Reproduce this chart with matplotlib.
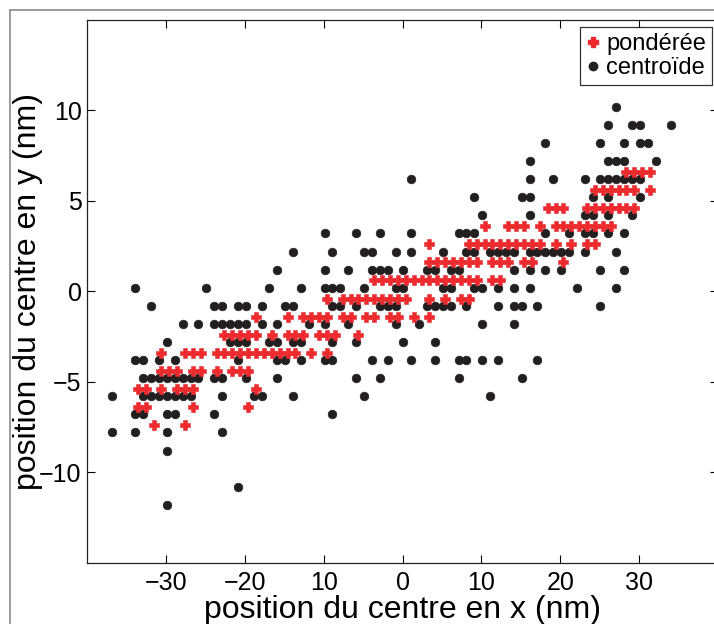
import matplotlib
matplotlib.use('Agg')
import matplotlib.pyplot as plt
from matplotlib.lines import Line2D

plt.rcParams['font.family'] = ['Liberation Sans', 'DejaVu Sans']

# ---- data: centroide (black dots), grouped by y level ----
cen_levels = [10.2, 9.2, 8.2, 7.2, 6.2, 5.2, 4.2, 3.2, 2.2, 1.2, 0.2, -0.8, -1.8,
              -2.8, -3.8, -4.8, -5.8, -6.8, -7.8, -8.8, -10.8, -11.8]
cen_x = [
    [27.1],
    [26.1, 29.1, 30.1, 34.1],
    [18.1, 25.1, 28.1, 30.1, 31.1],
    [16.1, 26.1, 27.1, 28.1, 32.1],
    [1.1, 16.1, 19.1, 23.1, 25.1, 26.1, 27.1, 28.1, 29.1, 30.1],
    [9.1, 15.1, 16.1, 24.1, 26.1, 30.1],
    [10.1, 16.1, 23.1, 24.1, 26.1, 29.1],
    [-9.9, -5.9, -2.9, 1.1, 7.1, 8.1, 9.1, 18.1, 21.1, 23.1, 24.1, 26.1, 28.1],
    [-13.9, -8.9, -4.9, -3.9, -0.9, 1.1, 5.1, 8.1, 9.1, 11.1, 12.1, 13.1, 14.1,
     16.1, 17.1, 18.1, 19.1, 20.1, 21.1, 23.1, 27.1],
    [-15.9, -9.9, -6.9, -3.9, -2.9, -1.9, 0.1, 3.1, 4.1, 6.1, 7.1, 14.1, 16.1,
     18.1, 20.1, 25.1, 28.1],
    [-33.9, -24.9, -16.9, -12.9, -9.9, -8.9, -7.9, -4.9, -0.9, 0.1, 5.1, 6.1,
     9.1, 10.1, 12.1, 14.1, 16.1, 22.1, 27.1],
    [-31.9, -23.9, -22.9, -20.9, -19.9, -17.9, -14.9, -13.9, -8.9, -7.9, -5.9,
     -2.9, -1.9, -0.9, 3.1, 4.1, 5.1, 6.1, 8.1, 12.1, 14.1, 15.1, 17.1, 25.1],
    [-27.9, -25.9, -23.9, -22.9, -21.9, -20.9, -19.9, -17.9, -15.9, -11.9, -9.9,
     -6.9, -0.9, 2.1, 10.1, 14.1],
    [-29.9, -21.9, -20.9, -19.9, -16.9, -15.9, -13.9, -12.9, -8.9, -5.9, 0.1, 4.1],
    [-33.9, -32.9, -30.9, -28.9, -20.9, -15.9, -14.9, -12.9, -9.9, -8.9, -3.9,
     -1.9, 1.1, 4.1, 7.1, 8.1, 10.1, 12.1, 17.1],
    [-32.9, -31.9, -30.9, -29.9, -28.9, -27.9, -26.9, -25.9, -23.9, -22.9, -19.9,
     -15.9, -5.9, -2.9, 7.1, 15.1],
    [-36.9, -32.9, -31.9, -30.9, -29.9, -28.9, -27.9, -26.9, -22.9, -18.9, -17.9,
     -13.9, -4.9, 11.1],
    [-33.9, -32.9, -29.9, -28.9, -23.9, -8.9],
    [-36.9, -33.9, -29.9, -22.9],
    [-29.9],
    [-20.9],
    [-29.9],
]

# ---- data: ponderee (red crosses), grouped by y level ----
pond_levels = [6.6, 5.6, 4.6, 3.6, 2.6, 1.6, 0.6, -0.4, -1.4, -2.4, -3.4, -4.4,
               -5.4, -6.4, -7.4]
pond_x = [
    [28.4, 29.4, 30.4, 31.4],
    [24.4, 25.4, 26.4, 27.4, 28.4, 29.4, 31.4],
    [18.4, 19.4, 20.4, 23.4, 24.4, 25.4, 26.4, 27.4, 28.4, 29.4],
    [10.4, 13.4, 14.4, 15.4, 17.4, 19.4, 20.4, 21.4, 22.4, 23.4, 24.4, 25.4, 26.4],
    [3.4, 8.4, 9.4, 10.4, 11.4, 12.4, 13.4, 14.4, 15.4, 16.4, 17.4, 19.4, 21.4,
     23.4, 24.4],
    [3.4, 4.4, 5.4, 6.4, 7.4, 8.4, 9.4, 11.4, 12.4, 13.4, 15.4, 16.4, 20.4],
    [-3.6, -2.6, -1.6, -0.6, 0.4, 1.4, 2.4, 3.4, 4.4, 5.4, 6.4, 7.4, 8.4, 9.4,
     11.4, 12.4],
    [-9.6, -7.6, -6.6, -5.6, -4.6, -3.6, -2.6, -1.6, -0.6, 0.4, 3.4, 5.4, 7.4, 8.4],
    [-18.6, -14.6, -12.6, -11.6, -10.6, -9.6, -7.6, -6.6, -4.6, -3.6, -1.6, -0.6,
     1.4, 3.4],
    [-22.6, -21.6, -20.6, -19.6, -18.6, -16.6, -14.6, -13.6, -12.6, -10.6, -9.6,
     -8.6, -5.6],
    [-30.6, -27.6, -26.6, -25.6, -23.6, -22.6, -21.6, -20.6, -19.6, -18.6, -17.6,
     -16.6, -15.6, -14.6, -13.6, -11.6, -9.6],
    [-30.6, -29.6, -28.6, -26.6, -25.6, -23.6, -21.6, -20.6, -19.6],
    [-33.6, -32.6, -30.6, -28.6, -27.6, -26.6, -18.6],
    [-33.6, -32.6, -26.6, -19.6],
    [-31.6, -27.6],
]

xticks = [-30, -20, -10, 0, 10, 20, 30]
xticklabels = ['\u221230', '\u221220', '10', '0', '10', '20', '30']
yticks = [-10, -5, 0, 5, 10]
yticklabels = ['\u221210', '\u22125', '0', '5', '10']

series_names = ['pondérée', 'centroïde']
red = '#ED2A2D'
black = '#231F20'

# expand rows into point lists
cx, cy = [], []
for lev, xs in zip(cen_levels, cen_x):
    for v in xs:
        cx.append(v)
        cy.append(lev)
px, py = [], []
for lev, xs in zip(pond_levels, pond_x):
    for v in xs:
        px.append(v)
        py.append(lev)

W, H = 714, 624
fig = plt.figure(figsize=(W / 100, H / 100), dpi=100)
fig.patch.set_facecolor('white')

left, right, top, bottom = 87.3, 717.9, 20.0, 562.7
ax = fig.add_axes([left / W, 1 - bottom / H, (right - left) / W, (bottom - top) / H])

ax.plot(cx, cy, linestyle='none', marker='o', markersize=6.3,
        markerfacecolor=black, markeredgecolor=black, markeredgewidth=0.4,
        zorder=2)
ax.plot(px, py, linestyle='none', marker='P', markersize=6.8,
        markerfacecolor=red, markeredgecolor=red, markeredgewidth=0.4,
        zorder=3)

ax.set_xlim(-40, 40)
ax.set_ylim(-15, 15)
ax.set_xticks(xticks)
ax.set_xticklabels(xticklabels)
ax.set_yticks(yticks)
ax.set_yticklabels(yticklabels)
ax.tick_params(direction='in', length=6, width=0.8, labelsize=18,
               top=True, right=True, colors='black')
ax.tick_params(axis='y', pad=4)
ax.tick_params(axis='x', pad=6)
for s in ax.spines.values():
    s.set_linewidth(0.9)
    s.set_color('#222222')

ax.set_xlabel('position du centre en x (nm)', fontsize=23, labelpad=0)
ax.set_ylabel('position du centre en y (nm)', fontsize=23, labelpad=-3)

handles = [
    Line2D([], [], linestyle='none', marker='P', markersize=6.5,
           markerfacecolor=red, markeredgecolor=red),
    Line2D([], [], linestyle='none', marker='o', markersize=6,
           markerfacecolor=black, markeredgecolor=black),
]
leg = ax.legend(handles, series_names, loc='upper right',
                bbox_to_anchor=((712 - left) / (right - left), (bottom - 27) / (bottom - top)),
                borderaxespad=0, fontsize=17, frameon=True, fancybox=False,
                handlelength=0.6, handletextpad=0.25, labelspacing=0.1,
                borderpad=0.25, edgecolor='black')
leg.get_frame().set_linewidth(0.9)

# outer figure border (gray)
fig.add_artist(Line2D([10 / W, 10 / W], [0, 1 - 10 / H], transform=fig.transFigure,
                      color='#8a8a8a', linewidth=1.2))
fig.add_artist(Line2D([10 / W, 1], [1 - 10 / H, 1 - 10 / H], transform=fig.transFigure,
                      color='#8a8a8a', linewidth=1.2))

fig.savefig('out.png', dpi=100)
